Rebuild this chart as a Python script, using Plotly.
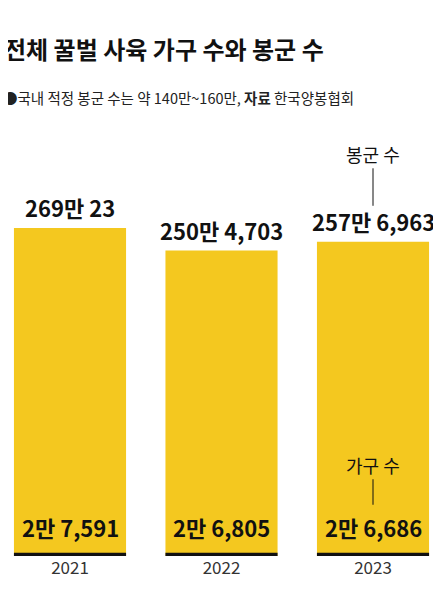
import plotly.graph_objects as go

years = ["2021", "2022", "2023"]
colonies = [2690023, 2504703, 2576963]
households = [27591, 26805, 26686]
colony_labels = ["269만 23", "250만 4,703", "257만 6,963"]
household_labels = ["2만 7,591", "2만 6,805", "2만 6,686"]

FONT = "Noto Sans CJK KR"
xs = list(range(len(years)))
fig = go.Figure()
fig.add_bar(x=xs, y=colonies, width=0.74, marker_color="#F4C81F", marker_line_width=0)
fig.add_bar(x=xs, y=households, width=0.74, marker_color="#111111", marker_line_width=0)

for i in xs:
    fig.add_annotation(x=i, y=colonies[i], text=f"<b>{colony_labels[i]}</b>", showarrow=False,
                       yanchor="bottom", yshift=3, font=dict(size=22, color="#111", family=FONT))
    fig.add_annotation(x=i, y=households[i], text=f"<b>{household_labels[i]}</b>", showarrow=False,
                       yanchor="bottom", yshift=8, font=dict(size=22, color="#111", family=FONT))

fig.add_annotation(x=2, y=colonies[2], ax=0, ay=-52, text="봉군 수", showarrow=True, arrowhead=0,
                   arrowwidth=1, arrowcolor="#111", yshift=36, standoff=0,
                   font=dict(size=18, color="#111", family=FONT))
fig.add_annotation(x=2, y=households[2], ax=0, ay=-40, text="가구 수", showarrow=True, arrowhead=0,
                   arrowwidth=1, arrowcolor="#111", yshift=48, standoff=0,
                   font=dict(size=18, color="#111", family=FONT))

fig.add_annotation(xref="paper", yref="paper", x=0.0, y=1, xanchor="left", yanchor="bottom",
                   yshift=52, xshift=-6, text="<b>전체 꿀벌 사육 가구 수와 봉군 수</b>", showarrow=False,
                   font=dict(size=24, color="#111", family=FONT))
fig.add_annotation(xref="paper", yref="paper", x=0.0, y=1, xanchor="left", yanchor="bottom",
                   yshift=10, xshift=-7, text="●국내 적정 봉군 수는 약 140만~160만, <b>자료</b> 한국양봉협회",
                   showarrow=False, font=dict(size=14.5, color="#222", family=FONT))

fig.update_layout(
    width=441, height=605, barmode="overlay", showlegend=False,
    margin=dict(l=0, r=0, t=112, b=57),
    plot_bgcolor="white", paper_bgcolor="white",
    xaxis=dict(range=[-62/151.5, 379/151.5], tickvals=xs, ticktext=years, showgrid=False,
               zeroline=False, showline=False, ticks="", tickfont=dict(size=17, color="#333", family=FONT)),
    yaxis=dict(range=[0, 436*2690023/328], visible=False),
)
fig.write_html("out.html")
